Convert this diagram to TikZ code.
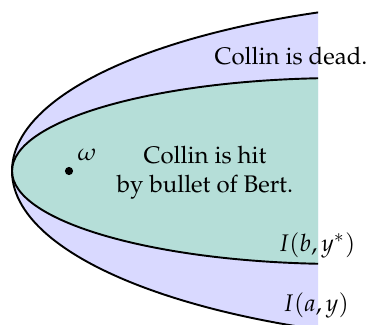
\documentclass[tikz,border=0pt]{standalone}
\usepackage[T1]{fontenc}
\usepackage{mathpazo}
\usetikzlibrary{positioning}

\definecolor{deadfill}{HTML}{D9D9FF}
\definecolor{hitfill}{HTML}{B5DED8}

\begin{document}
\begin{tikzpicture}[
    x=0.417pt, y=-0.417pt,
    dead/.style={fill=deadfill},
    hit/.style={fill=hitfill},
    rim/.style={draw=black, thick},
    dot/.style={circle, fill=black, inner sep=0pt, minimum size=3.4pt},
    lbl/.style={inner sep=0pt, anchor=base}
  ]
    \useasboundingbox (0,0) rectangle (367,324);

    % the two events, cut off on the right
    \begin{scope}
      \clip (0,0) rectangle (318,324);
      \fill[dead] (512,171) ellipse [x radius=500, y radius=172];
      \fill[hit] (342,171) ellipse [x radius=330, y radius=93];
      \draw[rim] (512,171) ellipse [x radius=500, y radius=172];
      \draw[rim] (342,171) ellipse [x radius=330, y radius=93];
    \end{scope}

    \node[dot] (w) at (69,171) {};
    \node[lbl] (omega) at (87,160) {$\omega$};

    \node[lbl, align=center] (hittext) at (205,192) {Collin is hit\\by bullet of Bert.};
    \node[lbl] (deadtext) at (291,64) {Collin is dead.};
    \node[lbl] (Ib) at (317,251) {$I(b,y^*)$};
    \node[lbl] (Ia) at (316,311) {$I(a,y)$};
  \end{tikzpicture}
\end{document}
